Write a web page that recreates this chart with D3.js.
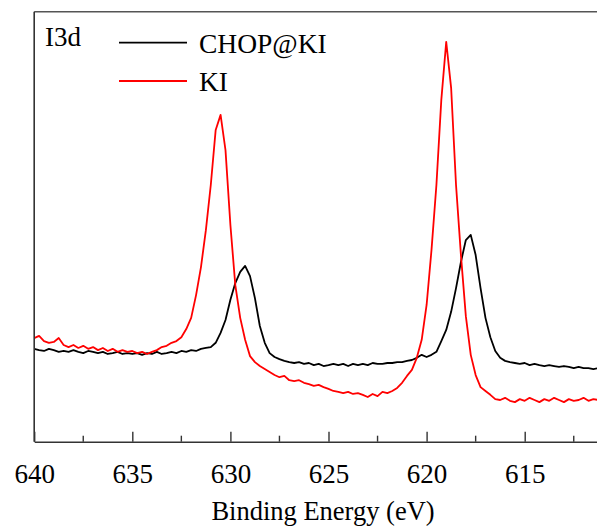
<!DOCTYPE html>
<html>

<head>
    <script src="https://d3js.org/d3.v7.min.js"></script>
    <style>
        body {
            margin: 0;
            padding: 0;
            background: white;
        }

        svg text {
            font-family: "Liberation Serif", "Times New Roman", Times, "DejaVu Serif", serif !important;
            fill: black;
        }
    </style>
</head>

<body>
    <div id="chart"></div>

    <script>
        // binding energy grid (eV), 0.25 eV step, 640 -> 611.25
        var energy = d3.range(0, 116).map(function (i) { return 640 - 0.25 * i; });

        // intensity (a.u.)
        var chopKI = [
            21.6, 21.3, 21.1, 21.6, 21.3, 20.9, 21.1, 20.9, 21.3, 20.9,
            20.6, 21.1, 20.9, 20.6, 20.9, 20.4, 20.6, 20.9, 20.4, 20.6,
            20.4, 20.6, 20.2, 20.6, 20.4, 20.9, 20.4, 20.6, 20.9, 20.6,
            21.1, 20.9, 21.3, 21.1, 21.6, 21.8, 22.0, 23.0, 25.3, 28.3,
            33.0, 36.9, 39.5, 40.9, 38.5, 33.4, 26.9, 23.0, 20.6, 19.7,
            19.2, 18.8, 18.5, 18.3, 18.5, 18.1, 18.3, 17.8, 18.1, 17.6,
            17.8, 18.1, 17.8, 18.1, 17.6, 18.1, 17.8, 18.1, 17.8, 18.3,
            18.1, 18.1, 18.3, 18.3, 18.5, 18.5, 18.8, 19.0, 19.5, 20.2,
            19.7, 20.2, 20.9, 23.4, 26.0, 30.2, 35.7, 41.8, 46.9, 48.1,
            43.4, 35.7, 28.8, 24.3, 21.1, 19.5, 18.8, 18.5, 18.3, 18.1,
            18.3, 17.8, 18.1, 17.8, 17.6, 17.8, 17.6, 17.4, 17.6, 17.4,
            17.1, 17.4, 17.1, 17.1, 16.9, 17.1
        ];

        var KI = [
            24.1, 24.6, 23.4, 23.0, 23.2, 24.1, 22.5, 22.0, 22.5, 21.8,
            22.3, 21.6, 22.0, 21.3, 21.8, 21.1, 21.6, 20.9, 21.3, 20.9,
            21.1, 20.6, 20.9, 20.4, 20.9, 21.3, 22.0, 22.3, 23.0, 23.4,
            24.3, 26.2, 28.8, 34.1, 40.6, 49.2, 59.7, 72.5, 76.0, 67.8,
            50.4, 36.4, 28.8, 23.7, 19.9, 18.5, 17.6, 16.9, 16.2, 15.5,
            15.0, 15.3, 14.3, 14.1, 14.3, 13.7, 13.4, 13.0, 13.2, 12.7,
            12.3, 11.8, 11.6, 11.3, 11.6, 11.1, 11.3, 10.9, 10.4, 11.1,
            10.6, 11.6, 11.3, 11.8, 12.5, 13.7, 15.3, 16.7, 19.5, 23.7,
            31.8, 44.6, 59.7, 79.5, 93.0, 82.3, 59.7, 43.4, 29.2, 20.2,
            15.5, 12.7, 11.8, 10.9, 9.9, 9.7, 10.2, 9.5, 9.2, 9.9,
            9.5, 10.2, 9.7, 9.2, 9.9, 9.5, 10.2, 9.7, 9.2, 9.9,
            9.5, 9.7, 10.2, 9.5, 9.9, 9.7
        ];

        var majorTicks = [640, 635, 630, 625, 620, 615];
        var minorTicks = [637.5, 632.5, 627.5, 622.5, 617.5, 612.5];

        var seriesNames = ["CHOP@KI", "KI"];
        var seriesColors = ["black", "#ff0000"];

        var width = 597, height = 526;
        var x0 = 34.2, yBottom = 441.7, yTop = 11.7;
        var serif = "'Liberation Serif', 'Times New Roman', Times, 'DejaVu Serif', serif";

        var svg = d3.select("#chart")
            .append("svg")
            .attr("width", width)
            .attr("height", height);

        var xs = d3.scaleLinear().domain([640, 610]).range([x0, x0 + 30 * 19.62]);
        var ys = d3.scaleLinear().domain([0, 100]).range([yBottom, yTop]);

        var line = d3.line()
            .x(function (d) { return xs(d[0]); })
            .y(function (d) { return ys(d[1]); });

        // spectra
        [chopKI, KI].forEach(function (s, k) {
            svg.append("path")
                .datum(energy.map(function (e, i) { return [e, s[i]]; }))
                .attr("fill", "none")
                .attr("stroke", seriesColors[k])
                .attr("stroke-width", 1.8)
                .attr("stroke-linejoin", "round")
                .attr("d", line);
        });

        // frame: top border
        svg.append("line")
            .attr("x1", x0).attr("x2", width)
            .attr("y1", yTop).attr("y2", yTop)
            .attr("stroke", "#555")
            .attr("stroke-width", 1.6);

        // left border
        svg.append("line")
            .attr("x1", x0).attr("x2", x0)
            .attr("y1", yTop).attr("y2", yBottom)
            .attr("stroke", "#333")
            .attr("stroke-width", 1.6);

        // bottom axis, ticks pointing in
        var xAxis = d3.axisBottom(xs)
            .tickValues(majorTicks)
            .tickSizeInner(-10)
            .tickSizeOuter(0)
            .tickPadding(22)
            .tickFormat(d3.format("d"));

        var gx = svg.append("g")
            .attr("transform", "translate(0," + yBottom + ")")
            .call(xAxis)
            .attr("font-family", serif);
        gx.select(".domain").attr("stroke", "#333").attr("stroke-width", 1.6);
        gx.selectAll(".tick line").attr("stroke", "#333").attr("stroke-width", 1.4);
        gx.selectAll(".tick text")
            .style("font-size", "27px")
            .style("font-family", serif)
            .attr("fill", "black");

        gx.selectAll(".minor")
            .data(minorTicks)
            .enter()
            .append("line")
            .attr("class", "minor")
            .attr("x1", function (d) { return xs(d); })
            .attr("x2", function (d) { return xs(d); })
            .attr("y1", 0).attr("y2", -6)
            .attr("stroke", "#333")
            .attr("stroke-width", 1.4);

        svg.append("text")
            .attr("x", 323)
            .attr("y", 520)
            .style("text-anchor", "middle")
            .style("font-size", "26.5px")
            .style("font-family", serif)
            .text("Binding Energy (eV)");

        // panel label
        svg.append("text")
            .attr("x", 45)
            .attr("y", 46)
            .style("font-size", "27px")
            .style("font-family", serif)
            .text("I3d");

        // legend
        var legendY = [42.7, 81];
        seriesNames.forEach(function (name, k) {
            svg.append("line")
                .attr("x1", 119).attr("x2", 187)
                .attr("y1", legendY[k]).attr("y2", legendY[k])
                .attr("stroke", seriesColors[k])
                .attr("stroke-width", 1.8);
            svg.append("text")
                .attr("x", 199)
                .attr("y", legendY[k] + 10)
                .style("font-size", "27.5px")
                .style("font-family", serif)
                .text(name);
        });
    </script>
</body>

</html>
